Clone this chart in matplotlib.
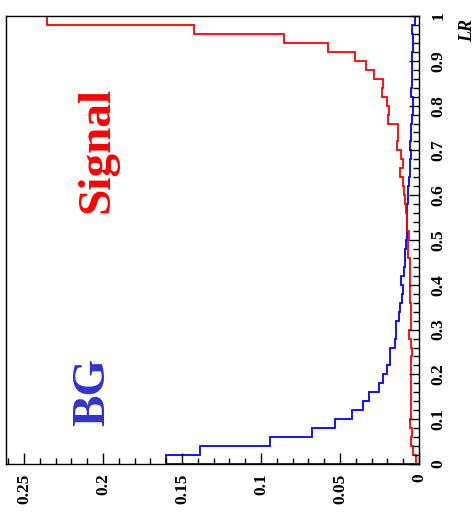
import numpy as np
import matplotlib
matplotlib.use('Agg')
import matplotlib.pyplot as plt
from matplotlib.ticker import MultipleLocator

# LR bin edges (50 bins, 0 -> 1)
lr_edges = np.linspace(0, 1, 51)

# signal (red), bins from LR=0 upwards
signal = [0.0020, 0.0036, 0.0053, 0.0042, 0.0060, 0.0053, 0.0050, 0.0051, 0.0053, 0.0050,
          0.0053, 0.0050, 0.0046, 0.0050, 0.0062, 0.0053, 0.0053, 0.0053, 0.0055, 0.0057,
          0.0058, 0.0058, 0.0060, 0.0068, 0.0068, 0.0063, 0.0075, 0.0078, 0.0083, 0.0088,
          0.0094, 0.0099, 0.0118, 0.0104, 0.0115, 0.0138, 0.0136, 0.0132, 0.0198, 0.0192,
          0.0202, 0.0236, 0.0226, 0.0283, 0.0338, 0.0405, 0.0576, 0.0852, 0.1424, 0.2352]

# background (blue)
background = [0.1601, 0.1386, 0.0945, 0.0675, 0.0530, 0.0422, 0.0355, 0.0315, 0.0256, 0.0229,
              0.0200, 0.0184, 0.0184, 0.0150, 0.0148, 0.0144, 0.0128, 0.0120, 0.0108, 0.0100,
              0.0116, 0.0092, 0.0088, 0.0091, 0.0082, 0.0074, 0.0076, 0.0074, 0.0076, 0.0072,
              0.0072, 0.0066, 0.0056, 0.0058, 0.0052, 0.0058, 0.0050, 0.0048, 0.0042, 0.0040,
              0.0036, 0.0048, 0.0044, 0.0042, 0.0046, 0.0044, 0.0038, 0.0040, 0.0044, 0.0025]

serif = 'Liberation Serif'

fig = plt.figure(figsize=(4.75, 5.2), dpi=100)
ax = fig.add_axes([6/475, 56/520, 413/475, 448/520])

# rotated histogram: values on horizontal (reversed), LR on vertical
ax.stairs(background, lr_edges, orientation='horizontal', baseline=0,
          color='#0000ff', lw=1.3)
ax.stairs(signal, lr_edges, orientation='horizontal', baseline=0,
          color='#ff0000', lw=1.3)

ax.set_xlim(0.2614, 0)
ax.set_ylim(0, 1)

ax.xaxis.set_major_locator(MultipleLocator(0.05))
ax.xaxis.set_minor_locator(MultipleLocator(0.01))
ax.yaxis.set_major_locator(MultipleLocator(0.1))
ax.yaxis.set_minor_locator(MultipleLocator(0.02))
ax.xaxis.set_major_formatter(lambda v, p: '0' if abs(v) < 1e-9 else ('%g' % round(v, 2)))
ax.yaxis.set_major_formatter(lambda v, p: '0' if abs(v) < 1e-9 else ('%g' % round(v, 1)))

ax.yaxis.tick_right()
ax.tick_params(axis='y', which='both', direction='in', left=False, right=True,
               labelleft=False, labelright=True, pad=8)
ax.tick_params(axis='x', which='both', direction='in', top=False, bottom=True, pad=7)
ax.tick_params(axis='y', which='major', length=7, width=1)
ax.tick_params(axis='y', which='minor', length=4, width=1)
ax.tick_params(axis='x', which='major', length=8, width=1)
ax.tick_params(axis='x', which='minor', length=4, width=1)

for lab in ax.get_yticklabels():
    lab.set_rotation(90)
    lab.set_va('center')
    lab.set_fontfamily(serif)
    lab.set_fontweight('bold')
    lab.set_fontsize(12.5)
for lab in ax.get_xticklabels():
    lab.set_rotation(90)
    lab.set_va('top')
    lab.set_ha('center')
    lab.set_fontfamily(serif)
    lab.set_fontweight('bold')
    lab.set_fontsize(12.5)

for sp in ax.spines.values():
    sp.set_linewidth(1)
    sp.set_color('black')

fig.text(468/475, 1 - 31/520, 'LR', rotation=90, ha='center', va='center',
         fontfamily=serif, fontweight='bold', fontstyle='italic', fontsize=13)

ax.text(0.2038, 0.70, 'Signal', rotation=90, ha='center', va='center',
        color='#ff0000', fontfamily=serif, fontweight='bold', fontsize=34)
ax.text(0.206, 0.161, 'BG', rotation=90, ha='center', va='center',
        color='#3333cc', fontfamily=serif, fontweight='bold', fontsize=34)

fig.savefig('out.png', dpi=100)
